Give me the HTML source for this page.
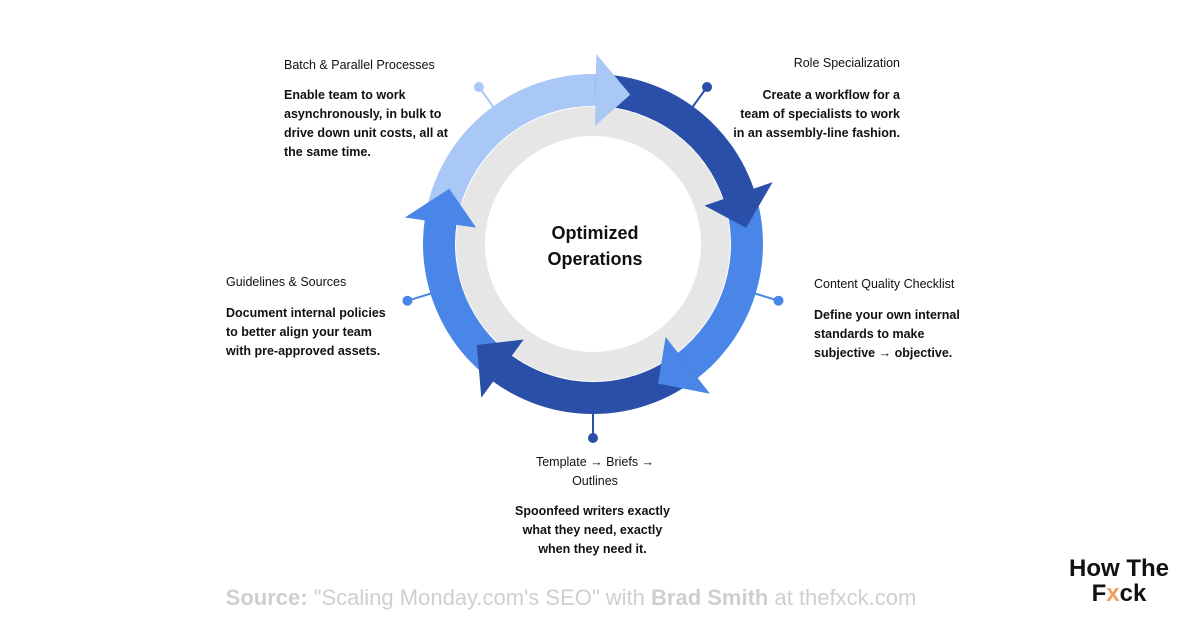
<!DOCTYPE html>
<html><head><meta charset="utf-8"><style>
body{margin:0;width:1200px;height:628px;background:#fff;position:relative;overflow:hidden;font-family:"Liberation Sans",sans-serif;color:#111}
.t{position:absolute;font-size:12.5px;line-height:19px}
.b{font-weight:bold;font-size:12.5px;line-height:19px}
</style></head><body>
<svg id="s" width="1200" height="628" style="position:absolute;left:0;top:0"></svg>
<div class="t" style="left:284px;top:56px">Batch &amp; Parallel Processes</div>
<div class="t b" style="left:284px;top:86px">Enable team to work<br>asynchronously, in bulk to<br>drive down unit costs, all at<br>the same time.</div>
<div class="t" style="left:760px;top:54px;width:140px;text-align:right">Role Specialization</div>
<div class="t b" style="left:700px;top:86px;width:200px;text-align:right">Create a workflow for a<br>team of specialists to work<br>in an assembly-line fashion.</div>
<div class="t" style="left:226px;top:273px">Guidelines &amp; Sources</div>
<div class="t b" style="left:226px;top:304px">Document internal policies<br>to better align your team<br>with pre-approved assets.</div>
<div class="t" style="left:814px;top:275px">Content Quality Checklist</div>
<div class="t b" style="left:814px;top:306px">Define your own internal<br>standards to make<br>subjective → objective.</div>
<div class="t" style="left:500px;top:453px;width:190px;text-align:center">Template → Briefs →<br>Outlines</div>
<div class="t b" style="left:490px;top:502px;width:205px;text-align:center">Spoonfeed writers exactly<br>what they need, exactly<br>when they need it.</div>
<div style="position:absolute;left:495px;top:220px;width:200px;text-align:center;font-weight:bold;font-size:18px;line-height:26px">Optimized<br>Operations</div>
<div style="position:absolute;left:0;width:1142px;top:585px;text-align:center;font-size:22px;color:#cfcfcf"><b>Source:</b> "Scaling Monday.com's SEO" with <b>Brad Smith</b> at thefxck.com</div>
<div style="position:absolute;left:1060px;top:556px;width:118px;text-align:center;font-weight:bold;font-size:24px;line-height:25px;color:#111">How The<br>F<span style="color:#f0a060">x</span>ck</div>
<script>
const s=document.getElementById('s'),cx=593,cy=244,ro=170,ri=138;
function P(a,r){a=(a-90)*Math.PI/180;return [cx+r*Math.cos(a),cy+r*Math.sin(a)];}
let h='<circle cx="'+cx+'" cy="'+cy+'" r="137" fill="#e6e6e6"/><circle cx="'+cx+'" cy="'+cy+'" r="108" fill="#fff"/>';
[[-36,'#a9c8f5'],[36,'#2a4fa8'],[107,'#4a86e8'],[180,'#2a4fa8'],[253,'#4a86e8']].forEach(([a,c])=>{const p1=P(a,ro-2),p2=P(a,ro+24);
h+='<line x1="'+p1[0]+'" y1="'+p1[1]+'" x2="'+p2[0]+'" y2="'+p2[1]+'" stroke="'+c+'" stroke-width="2"/><circle cx="'+p2[0]+'" cy="'+p2[1]+'" r="5" fill="'+c+'"/>';});
function body(a0,a1,c){const A=P(a0,ro),B=P(a1,ro),C=P(a1,ri),D=P(a0,ri);const l=(a1-a0)>180?1:0;
h+='<path d="M'+A+' A'+ro+' '+ro+' 0 '+l+' 1 '+B+' L'+C+' A'+ri+' '+ri+' 0 '+l+' 0 '+D+'Z" fill="'+c+'"/>';}
function head(a1,c){const E=P(a1,ro+20),F=P(a1,ri-20),T=P(a1+13,(ro+ri)/2);h+='<polygon points="'+E+' '+T+' '+F+'" fill="'+c+'"/>';}
const S=[[-82,1,'#a9c8f5'],[1,71,'#2a4fa8'],[71,142,'#4a86e8'],[142,216,'#2a4fa8'],[216,278,'#4a86e8']];
S.forEach(x=>body(x[0],x[1]+1,x[2]));
S.forEach(x=>head(x[1],x[2]));
s.innerHTML=h;
</script>
</body></html>
